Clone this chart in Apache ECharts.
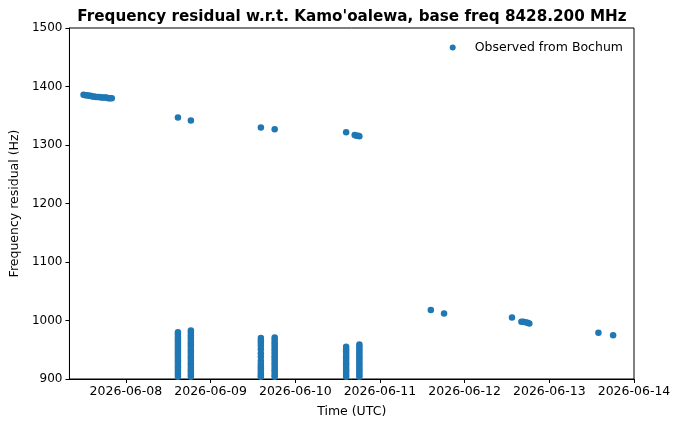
<!DOCTYPE html>
<html>
<head>
<meta charset="utf-8">
<script src="https://cdn.jsdelivr.net/npm/echarts@6/dist/echarts.min.js"></script>
<style>
  html, body { margin: 0; padding: 0; background: #fff; }
  #chart { width: 680px; height: 427px; }
</style>
</head>
<body>
<div id="chart"></div>
<script>
// Doppler residual passes (UTC times, Hz)
const passTimes = [
    '2026-06-07T12:00', '2026-06-07T12:30', '2026-06-07T13:00', '2026-06-07T13:30',
    '2026-06-07T14:00', '2026-06-07T14:30', '2026-06-07T15:00', '2026-06-07T15:30',
    '2026-06-07T16:00', '2026-06-07T16:30', '2026-06-07T17:00', '2026-06-07T17:30',
    '2026-06-07T18:00', '2026-06-07T18:30', '2026-06-07T19:00', '2026-06-07T19:30',
    '2026-06-07T20:00',
    '2026-06-08T14:45', '2026-06-08T18:25',
    '2026-06-09T14:15', '2026-06-09T18:10',
    '2026-06-10T14:25', '2026-06-10T16:50', '2026-06-10T17:20', '2026-06-10T17:50', '2026-06-10T18:10',
    '2026-06-11T14:25', '2026-06-11T18:10',
    '2026-06-12T13:25', '2026-06-12T16:05', '2026-06-12T16:40', '2026-06-12T17:15', '2026-06-12T17:50', '2026-06-12T18:20',
    '2026-06-13T13:55', '2026-06-13T18:05'
]
const passFreq = [
    1386, 1385, 1385, 1384, 1384, 1383, 1383, 1382,
    1382, 1382, 1381, 1381, 1381, 1381, 1380, 1380,
    1380,
    1347, 1342,
    1330, 1327,
    1322, 1317, 1316, 1316, 1315,
    1018, 1012,
    1005, 998, 998, 997, 996, 995,
    979, 975
]

// vertical streaks (one time, many readings)
const streakTimes = [
    '2026-06-08T14:45', '2026-06-08T18:25',
    '2026-06-09T14:15', '2026-06-09T18:10',
    '2026-06-10T14:25', '2026-06-10T18:10'
]
const streakFreq = [
    [980, 976, 972, 968, 964, 960, 956, 952, 948, 944, 940, 936, 932, 928, 924, 920, 916, 912, 908, 904],
    [983, 979, 975, 971, 967, 963, 959, 955, 951, 947, 943, 939, 935, 931, 927, 923, 919, 915, 911, 907, 904],
    [970, 966, 962, 957, 951, 944, 938, 931, 926, 922, 918, 914, 910, 906, 904],
    [971, 967, 963, 959, 955, 951, 947, 943, 939, 935, 931, 927, 923, 919, 915, 911, 907, 904],
    [955, 951, 947, 943, 939, 935, 931, 927, 923, 919, 915, 911, 907, 904],
    [959, 955, 951, 947, 943, 939, 935, 931, 927, 923, 919, 915, 911, 907, 904]
]

const dayTicks = ['2026-06-08', '2026-06-09', '2026-06-10', '2026-06-11', '2026-06-12', '2026-06-13', '2026-06-14']

const utc = s => new Date(s + 'Z').getTime()

let points = []
passTimes.forEach((t, i) => points.push([utc(t), passFreq[i]]))
streakTimes.forEach((t, i) => {
    streakFreq[i].forEach(v => points.push([utc(t), v]))
})

const pad = n => (n < 10 ? '0' : '') + n
const dayLabel = v => {
    let d = new Date(v)
    return d.getUTCFullYear() + '-' + pad(d.getUTCMonth() + 1) + '-' + pad(d.getUTCDate())
}

const font = 'DejaVu Sans'
const blue = '#1f77b4'

let option = {
    animation: false,
    textStyle: { fontFamily: font },
    title: {
        text: "Frequency residual w.r.t. Kamo'oalewa, base freq 8428.200 MHz",
        left: 347,
        textAlign: 'center',
        top: 5,
        textStyle: { fontFamily: font, fontSize: 15.2, fontWeight: 'bold', color: '#000' }
    },
    legend: {
        right: 52,
        top: 36,
        itemWidth: 6,
        itemHeight: 6,
        textStyle: { fontFamily: font, fontSize: 12.5, color: '#000', padding: [0, 0, 0, 14] },
        data: [{ name: 'Observed from Bochum', icon: 'circle' }]
    },
    grid: { left: 69, right: 46, top: 28, bottom: 48, show: true, borderColor: '#000', borderWidth: 1 },
    xAxis: {
        type: 'time',
        min: utc('2026-06-07T08:00'),
        max: utc(dayTicks[dayTicks.length - 1] + 'T00:00'),
        minInterval: 86400000,
        maxInterval: 86400000,
        name: 'Time (UTC)',
        nameLocation: 'middle',
        nameGap: 26,
        nameTextStyle: { fontFamily: font, fontSize: 12.5, color: '#000' },
        axisLine: { lineStyle: { color: '#000' } },
        axisTick: { show: true, length: 4, lineStyle: { color: '#000' } },
        axisLabel: {
            fontFamily: font, fontSize: 12.5, color: '#000', margin: 6,
            showMinLabel: false,
            showMaxLabel: true,
            formatter: v => dayLabel(v)
        },
        splitLine: { show: false }
    },
    yAxis: {
        type: 'value',
        min: 900,
        max: 1500,
        interval: 100,
        name: 'Frequency residual (Hz)',
        nameLocation: 'middle',
        nameGap: 48,
        nameTextStyle: { fontFamily: font, fontSize: 12.5, color: '#000' },
        axisLine: { show: true, lineStyle: { color: '#000' } },
        axisTick: { show: true, length: 4, lineStyle: { color: '#000' } },
        axisLabel: { fontFamily: font, fontSize: 12, color: '#000', margin: 7, formatter: v => String(v) },
        splitLine: { show: false }
    },
    series: [{
        name: 'Observed from Bochum',
        type: 'scatter',
        symbolSize: 6.5,
        itemStyle: { color: blue, opacity: 1 },
        clip: true,
        data: points
    }]
}

let chart = echarts.init(document.getElementById('chart'), null, { renderer: 'canvas' })
chart.setOption(option)
</script>
</body>
</html>
